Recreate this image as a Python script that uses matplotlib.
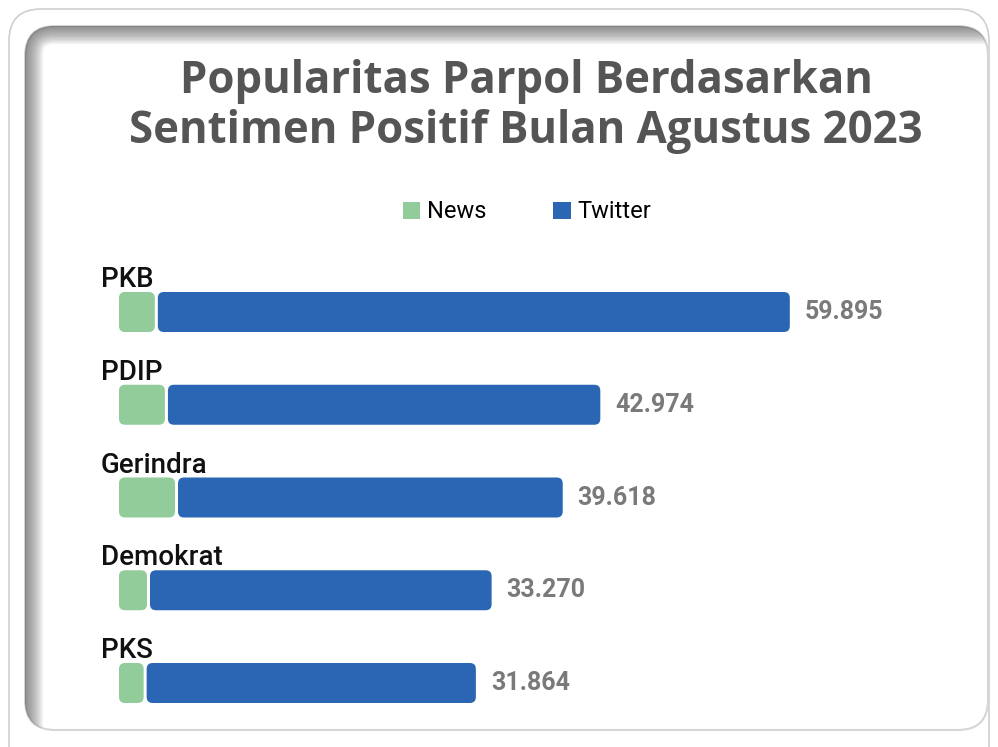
import matplotlib
matplotlib.use("Agg")
import matplotlib.pyplot as plt
from matplotlib.patches import FancyBboxPatch, Patch

# data (values in the source are thousands with "." separators)
parties = ["PKB", "PDIP", "Gerindra", "Demokrat", "PKS"]
news = [3200, 4100, 5000, 2500, 2200]
twitter = [56695, 38874, 34618, 30770, 29664]
series = ["News", "Twitter"]
colors = ["#92cc9b", "#2a66b3"]
title = ["Popularitas Parpol Berdasarkan", "Sentimen Positif Bulan Agustus 2023"]

W, H = 998, 747
fig = plt.figure(figsize=(W / 100, H / 100), dpi=100)

# --- frame decoration in pixel coords ---
bg = fig.add_axes([0, 0, 1, 1])
bg.set_xlim(0, W); bg.set_ylim(H, 0); bg.axis("off")
bg.add_patch(FancyBboxPatch((9, 9), W - 18, H + 20, boxstyle="round,pad=0,rounding_size=32",
                            fc="white", ec="#cfcfcf", lw=1.2))
panel = FancyBboxPatch((25, 26), 963, 704, boxstyle="round,pad=0,rounding_size=30",
                       fc="white", ec="#d6d6d6", lw=1.5)
bg.add_patch(panel)
for w in range(2, 28, 2):
    sh = FancyBboxPatch((25, 26), 1100, 900, boxstyle="round,pad=0,rounding_size=30",
                        fc="none", ec="#555555", lw=w, alpha=0.07)
    bg.add_patch(sh)
    sh.set_clip_path(panel)

# --- title ---
for k, line in enumerate(title):
    fig.text(526 / W, 1 - (82 + 50 * k) / H, line, ha="center", va="center", fontsize=31.5,
             fontweight="bold", family="Open Sans", color="#555555")

# --- bars ---
px_x = 0.0112      # px per unit
px_y = 92.75       # px per category
y0 = 312
ax = fig.add_axes([119 / W, (H - 735) / H, 860 / W, 485 / H])
ax.set_xlim(0, 860 / px_x)
ax.set_ylim((735 - y0) / px_y, (250 - y0) / px_y)
ax.axis("off")
ax.patch.set_alpha(0)

bh = 40 / px_y
gap = 3 / px_x
r = 6 / px_x
asp = (1 / px_y) / (1 / px_x)
for i, (p, n, t) in enumerate(zip(parties, news, twitter)):
    ax.add_patch(FancyBboxPatch((0, i - bh / 2), n, bh, boxstyle=f"round,pad=0,rounding_size={r}",
                                mutation_aspect=asp, fc=colors[0], ec="none"))
    ax.add_patch(FancyBboxPatch((n + gap, i - bh / 2), t - gap, bh,
                                boxstyle=f"round,pad=0,rounding_size={r}",
                                mutation_aspect=asp, fc=colors[1], ec="none"))
    ax.text(-18 / px_x, i - 25 / px_y, p, ha="left", va="baseline", fontsize=20,
            family="Roboto", fontweight="medium", color="#111111")
    total = n + t
    ax.text(total + 15 / px_x, i, f"{total:,}".replace(",", "."), ha="left", va="center",
            fontsize=18, family="Roboto", fontweight="bold", color="#7a7a7a")

handles = [Patch(fc=c, ec="none", label=s) for c, s in zip(colors, series)]
fig.legend(handles=handles, loc="center", bbox_to_anchor=(527 / W, 1 - 212 / H), ncol=2,
           frameon=False, prop={"family": "Roboto", "size": 17}, handlelength=0.75,
           handleheight=0.75, handletextpad=0.3, columnspacing=2.8)

fig.savefig("out.png", dpi=100)
